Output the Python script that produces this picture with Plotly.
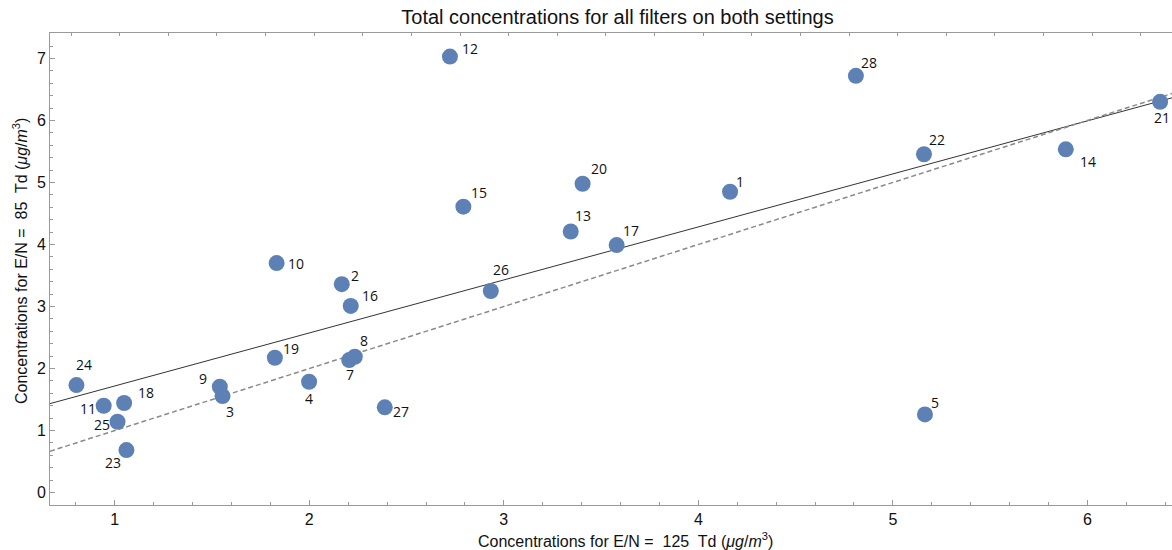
import numpy as np
import plotly.graph_objects as go

# Filter numbers and their total concentrations at the two E/N settings
filter_ids = [1, 2, 3, 4, 5, 7, 8, 9, 10, 11, 12, 13, 14, 15,
              16, 17, 18, 19, 20, 21, 22, 23, 24, 25, 26, 27, 28]
conc_125 = [4.163, 2.167, 1.554, 1.999, 5.165, 2.205, 2.234, 1.540, 1.832, 0.943,
            2.723, 3.344, 5.889, 2.792, 2.213, 3.580, 1.048, 1.823, 3.405, 6.374,
            5.160, 1.060, 0.803, 1.014, 2.933, 2.388, 4.810]
conc_85 = [4.850, 3.360, 1.556, 1.787, 1.260, 2.137, 2.190, 1.706, 3.700, 1.400,
           7.030, 4.210, 5.535, 4.610, 3.010, 3.990, 1.444, 2.174, 4.980, 6.300,
           5.455, 0.685, 1.734, 1.142, 3.250, 1.374, 6.720]

# Pixel offsets of each number label from its point (right, up)
label_dx = [10, 13, 7, 0, 10, 1, 9, -17, 19, -16, 20, 12, 22, 16,
            19, 14, 22, 16, 16, 2, 13, -13, 8, -16, 10, 16, 13]
label_dy = [10, 9, -15, -17, 12, -14, 16, 8, 0, -3, 8, 16, -12, 14,
            10, 15, 11, 9, 15, -16, 15, -12, 21, -3, 22, -4, 13]

X_RANGE = [0.667, 6.435]
Y_RANGE = [-0.2, 7.41]

MARKER_COLOR = "#5E81B5"
FRAME_COLOR = "#9a9a9a"
SANS = "Liberation Sans, Arial, sans-serif"
TICK_FONT = dict(family=SANS, size=16, color="#111")

fig = go.Figure()

# Least-squares fit through all points
slope, intercept = np.polyfit(conc_125, conc_85, 1)
xs = np.array(X_RANGE)
fig.add_trace(go.Scatter(x=xs, y=intercept + slope * xs, mode="lines",
                         line=dict(color="#333333", width=1), hoverinfo="skip",
                         showlegend=False))
# 1:1 reference line
fig.add_trace(go.Scatter(x=xs, y=xs, mode="lines",
                         line=dict(color="#8a8a8a", width=1.5, dash="5px,3px"),
                         hoverinfo="skip", showlegend=False))

fig.add_trace(go.Scatter(x=conc_125, y=conc_85, mode="markers",
                         marker=dict(color=MARKER_COLOR, size=16, line=dict(width=0)),
                         text=[str(i) for i in filter_ids], showlegend=False))

for fid, xv, yv, dx, dy in zip(filter_ids, conc_125, conc_85, label_dx, label_dy):
    fig.add_annotation(x=xv, y=yv, text=str(fid), showarrow=False,
                       xshift=dx, yshift=dy,
                       font=dict(family="Open Sans, Lato, sans-serif", size=14, color="#111"))

unit = "(<i>μg</i>/<i>m</i><sup>3</sup>)"

# Axis titles placed in paper pixels
fig.add_annotation(xref="paper", yref="paper", x=(625.8 - 50) / 1122, y=-(540 - 505) / 472,
                   text="Concentrations for E/N =  125  Td " + unit, showarrow=False,
                   xanchor="center", yanchor="middle",
                   font=dict(family=SANS, size=16, color="#111"))
fig.add_annotation(xref="paper", yref="paper", x=-(50 - 20) / 1122, y=(505 - 261) / 472,
                   text="Concentrations for E/N =  85  Td " + unit, showarrow=False,
                   textangle=-90, xanchor="center", yanchor="middle",
                   font=dict(family=SANS, size=16, color="#111"))

fig.update_layout(
    width=1172, height=550,
    margin=dict(l=50, r=0, t=33, b=45),
    paper_bgcolor="white", plot_bgcolor="white",
    title=dict(text="Total concentrations for all filters on both settings",
               x=617.5 / 1172, xanchor="center", y=1 - 17 / 550, yanchor="middle",
               font=dict(family=SANS, size=20, color="#111")),
    xaxis=dict(range=X_RANGE, showgrid=False, zeroline=False,
               showline=True, linecolor=FRAME_COLOR, linewidth=1,
               tickmode="array", tickvals=[1, 2, 3, 4, 5, 6],
               ticks="inside", ticklen=5, tickcolor=FRAME_COLOR,
               minor=dict(dtick=0.2, tick0=0, ticks="inside", ticklen=3, tickcolor=FRAME_COLOR),
               tickfont=TICK_FONT),
    xaxis2=dict(range=X_RANGE, overlaying="x", side="top", showgrid=False, zeroline=False,
                showline=True, linecolor=FRAME_COLOR, linewidth=1,
                tickmode="linear", tick0=0.775, dtick=0.25,
                ticks="inside", ticklen=3, tickcolor=FRAME_COLOR, showticklabels=False),
    yaxis=dict(range=Y_RANGE, showgrid=False, zeroline=False,
               showline=True, linecolor=FRAME_COLOR, linewidth=1,
               tickmode="array", tickvals=[0, 1, 2, 3, 4, 5, 6, 7],
               ticks="inside", ticklen=5, tickcolor=FRAME_COLOR,
               minor=dict(dtick=0.2, tick0=0, ticks="inside", ticklen=3, tickcolor=FRAME_COLOR),
               tickfont=TICK_FONT),
)

# invisible trace so the top frame axis is drawn
fig.add_trace(go.Scatter(x=[X_RANGE[0]], y=[Y_RANGE[0]], xaxis="x2", mode="markers",
                         marker=dict(opacity=0), hoverinfo="skip", showlegend=False))

fig.write_html("out.html")
